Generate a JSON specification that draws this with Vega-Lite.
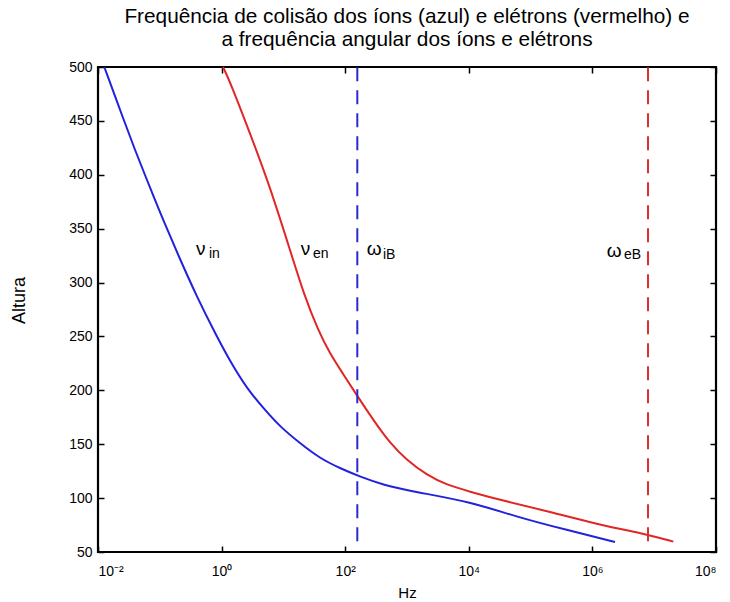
{
  "$schema": "https://vega.github.io/schema/vega-lite/v6.json",
  "width": 618,
  "height": 485,
  "autosize": {"type": "none"},
  "padding": {"left": 98, "top": 67, "right": 14, "bottom": 50},
  "title": {
    "text": ["Frequência de colisão dos íons (azul) e elétrons (vermelho) e", "a frequência angular dos íons e elétrons"],
    "fontSize": 20.8,
    "fontWeight": "normal",
    "color": "#000",
    "anchor": "middle",
    "offset": 9,
    "lineHeight": 23
  },
  "datasets": {
    "curves": [
      {"series": "in", "hz": 0.01265, "alt": 500},
      {"series": "in", "hz": 0.02685, "alt": 449},
      {"series": "in", "hz": 0.0397, "alt": 423},
      {"series": "in", "hz": 0.05762, "alt": 399.8},
      {"series": "in", "hz": 0.08362, "alt": 376.6},
      {"series": "in", "hz": 0.1085, "alt": 360.8},
      {"series": "in", "hz": 0.2045, "alt": 323.7},
      {"series": "in", "hz": 0.3999, "alt": 286.6},
      {"series": "in", "hz": 0.7816, "alt": 253.2},
      {"series": "in", "hz": 1.419, "alt": 225.4},
      {"series": "in", "hz": 2.674, "alt": 200.3},
      {"series": "in", "hz": 5.04, "alt": 181.8},
      {"series": "in", "hz": 8.81, "alt": 166.3},
      {"series": "in", "hz": 18.58, "alt": 150.9},
      {"series": "in", "hz": 39.1, "alt": 136.9},
      {"series": "in", "hz": 82.4, "alt": 127.7},
      {"series": "in", "hz": 173.5, "alt": 119.9},
      {"series": "in", "hz": 414, "alt": 112.2},
      {"series": "in", "hz": 1265, "alt": 106.0},
      {"series": "in", "hz": 10450, "alt": 96.7},
      {"series": "in", "hz": 60260, "alt": 82.5},
      {"series": "in", "hz": 388000, "alt": 70.4},
      {"series": "in", "hz": 2320000, "alt": 59.3},
      {"series": "en", "hz": 1.054, "alt": 500},
      {"series": "en", "hz": 1.368, "alt": 486.4},
      {"series": "en", "hz": 2.884, "alt": 438.5},
      {"series": "en", "hz": 6.07, "alt": 388.9},
      {"series": "en", "hz": 12.79, "alt": 330.2},
      {"series": "en", "hz": 22.1, "alt": 286.9},
      {"series": "en", "hz": 36.3, "alt": 256.0},
      {"series": "en", "hz": 56.8, "alt": 233.7},
      {"series": "en", "hz": 93.2, "alt": 215.0},
      {"series": "en", "hz": 157, "alt": 194.7},
      {"series": "en", "hz": 285, "alt": 172.5},
      {"series": "en", "hz": 531, "alt": 150.9},
      {"series": "en", "hz": 989, "alt": 135.4},
      {"series": "en", "hz": 2084, "alt": 121.4},
      {"series": "en", "hz": 4390, "alt": 112.2},
      {"series": "en", "hz": 10450, "alt": 106.0},
      {"series": "en", "hz": 32000, "alt": 98.3},
      {"series": "en", "hz": 206000, "alt": 87.4},
      {"series": "en", "hz": 1327000, "alt": 75.1},
      {"series": "en", "hz": 8550000, "alt": 65.8},
      {"series": "en", "hz": 20400000, "alt": 59.6}
    ],
    "gyro": [
      {"series": "iB", "hz": 157, "low": 60, "high": 500},
      {"series": "eB", "hz": 7940000, "low": 60, "high": 500}
    ],
    "symbols": [
      {"sym": "ν", "hz": 0.385, "alt": 325.6},
      {"sym": "ν", "hz": 19.05, "alt": 325.6},
      {"sym": "ω", "hz": 223, "alt": 325.6},
      {"sym": "ω", "hz": 1700000, "alt": 324.0}
    ],
    "subs": [
      {"sub": "in", "hz": 0.625, "alt": 322.8},
      {"sub": "en", "hz": 30.1, "alt": 322.8},
      {"sub": "iB", "hz": 409, "alt": 321.9},
      {"sub": "eB", "hz": 3250000, "alt": 321.9}
    ]
  },
  "layer": [
    {
      "data": {"name": "curves"},
      "mark": {"type": "line", "strokeWidth": 2, "interpolate": "basis"},
      "encoding": {
        "x": {
          "field": "hz", "type": "quantitative",
          "scale": {"type": "log", "domain": [0.01, 100000000], "nice": false},
          "axis": {
            "orient": "bottom", "title": "Hz", "ticks": false,
            "values": [0.01, 1, 100, 10000, 1000000, 100000000],
            "labelExpr": "datum.value < 0.1 ? '10⁻²' : datum.value < 10 ? '10⁰' : datum.value < 1000 ? '10²' : datum.value < 100000 ? '10⁴' : datum.value < 10000000 ? '10⁶' : '10⁸'",
            "labelPadding": 12, "titlePadding": 7, "titleFontSize": 15
          }
        },
        "y": {
          "field": "alt", "type": "quantitative",
          "scale": {"domain": [50, 500], "nice": false, "zero": false},
          "axis": {
            "orient": "left", "title": "Altura", "ticks": false,
            "values": [50, 100, 150, 200, 250, 300, 350, 400, 450, 500],
            "labelPadding": 6,
            "titleX": -79, "titleY": 233, "titleAngle": -90, "titleBaseline": "middle", "titleAlign": "center", "titleFontSize": 18
          }
        },
        "color": {
          "field": "series", "type": "nominal",
          "scale": {"domain": ["in", "en", "iB", "eB"], "range": ["#2222de", "#e22626", "#2a2ad0", "#dc3030"]},
          "legend": null
        },
        "order": {"field": "hz", "type": "quantitative"}
      }
    },
    {
      "data": {"name": "gyro"},
      "mark": {"type": "rule", "strokeWidth": 2, "strokeDash": [14, 9]},
      "encoding": {
        "x": {"field": "hz", "type": "quantitative", "axis": null},
        "y": {"field": "low", "type": "quantitative", "axis": null},
        "y2": {"field": "high"},
        "color": {"field": "series", "type": "nominal", "legend": null}
      }
    },
    {
      "data": {"name": "symbols"},
      "mark": {"type": "text", "fontSize": 19, "align": "left", "baseline": "alphabetic", "color": "#000"},
      "encoding": {
        "x": {"field": "hz", "type": "quantitative", "axis": null},
        "y": {"field": "alt", "type": "quantitative", "axis": null},
        "text": {"field": "sym"}
      }
    },
    {
      "data": {"name": "subs"},
      "mark": {"type": "text", "fontSize": 14, "align": "left", "baseline": "alphabetic", "color": "#000"},
      "encoding": {
        "x": {"field": "hz", "type": "quantitative", "axis": null},
        "y": {"field": "alt", "type": "quantitative", "axis": null},
        "text": {"field": "sub"}
      }
    },
    {
      "data": {"name": "gyro"},
      "mark": {"type": "point", "opacity": 0},
      "encoding": {
        "x": {
          "field": "hz", "type": "quantitative",
          "axis": {"orient": "top", "offset": -485, "labels": false, "title": null, "values": [0.01, 1, 100, 10000, 1000000, 100000000]}
        },
        "y": {
          "field": "high", "type": "quantitative",
          "axis": {"orient": "right", "offset": -618, "labels": false, "title": null, "values": [50, 100, 150, 200, 250, 300, 350, 400, 450, 500]}
        }
      }
    },
    {
      "data": {"name": "gyro"},
      "mark": {"type": "point", "opacity": 0},
      "encoding": {
        "x": {
          "field": "hz", "type": "quantitative",
          "axis": {"orient": "bottom", "offset": -485, "labels": false, "title": null, "values": [0.01, 1, 100, 10000, 1000000, 100000000]}
        },
        "y": {
          "field": "low", "type": "quantitative",
          "axis": {"orient": "left", "offset": -618, "labels": false, "title": null, "values": [50, 100, 150, 200, 250, 300, 350, 400, 450, 500]}
        }
      }
    }
  ],
  "resolve": {"axis": {"x": "independent", "y": "independent"}},
  "config": {
    "font": "Liberation Sans",
    "view": {"stroke": "#000", "strokeWidth": 2.2},
    "axis": {
      "domain": false,
      "grid": false,
      "tickSize": 6,
      "tickColor": "#000",
      "tickWidth": 1.5,
      "labelColor": "#000",
      "labelFontSize": 14,
      "titleColor": "#000",
      "titleFontWeight": "normal"
    }
  }
}
